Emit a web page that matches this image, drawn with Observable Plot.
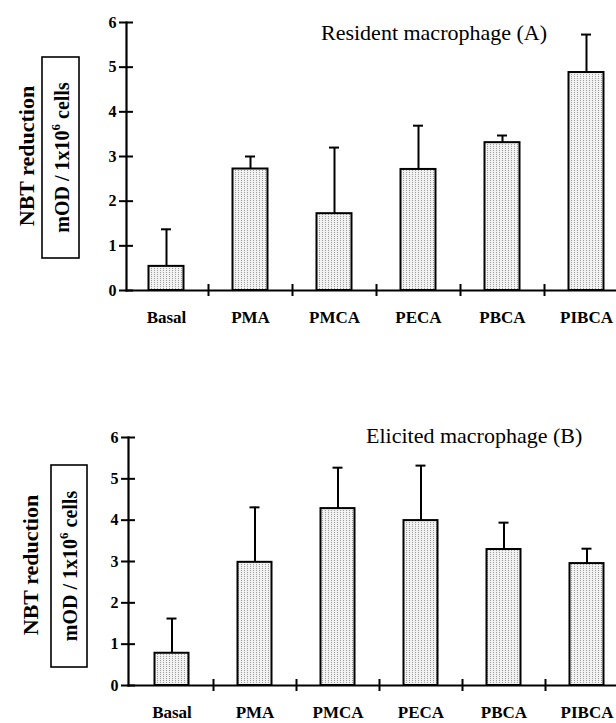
<!DOCTYPE html>
<html><head><meta charset="utf-8">
<script src="https://cdn.jsdelivr.net/npm/d3@7"></script>
<script src="https://cdn.jsdelivr.net/npm/@observablehq/plot@0.6"></script>
<style>
body{margin:0;background:#fff}
#c svg{display:block}
</style>
</head><body><div id="c"></div>
<script>
// ---- data ----
const categories = ["Basal", "PMA", "PMCA", "PECA", "PBCA", "PIBCA"];
const residentMean = [0.54, 2.72, 1.72, 2.71, 3.31, 4.88];
const residentSD   = [0.83, 0.28, 1.48, 0.98, 0.16, 0.85];
const elicitedMean = [0.78, 2.98, 4.28, 3.99, 3.29, 2.95];
const elicitedSD   = [0.84, 1.33, 0.99, 1.33, 0.65, 0.36];
const yTicks = [0, 1, 2, 3, 4, 5, 6];
const panelTitles = ["Resident macrophage (A)", "Elicited macrophage (B)"];
const yTitle = "NBT reduction";
const boxTitle = ["mOD / 1x10", "6", " cells"];

const serif = "'Liberation Serif', 'Times New Roman', Times, serif";

function panel(means, sds, title, L) {
  const rows = categories.map((c, i) => ({cat: c, mean: means[i], upper: means[i] + sds[i]}));
  const bw = (L.xRange[1] - L.xRange[0]) / categories.length;
  const barInset = (bw - L.barWidth) / 2;
  const capInset = (bw - 10) / 2;
  const frameW = 616 - L.marginLeft;
  const pid = "stip" + L.id;
  const svg = Plot.plot({
    width: 616, height: L.height,
    marginTop: L.marginTop, marginBottom: L.marginBottom,
    marginLeft: L.marginLeft, marginRight: 0,
    style: {fontFamily: serif, background: "#fff", color: "#000", overflow: "visible"},
    x: {type: "band", domain: categories, range: L.xRange, padding: 0, label: null},
    y: {domain: [0, 6], label: null, axis: null},
    marks: [
      Plot.barY(rows, {x: "cat", y: "mean", fill: `url(#${pid})`, stroke: "#000", strokeWidth: 2,
        insetLeft: barInset, insetRight: barInset}),
      Plot.ruleX(rows, {x: "cat", y1: "mean", y2: "upper", stroke: "#000", strokeWidth: 2}),
      Plot.tickY(rows, {x: "cat", y: "upper", stroke: "#000", strokeWidth: 2,
        insetLeft: capInset, insetRight: capInset}),
      Plot.frame({anchor: "left", stroke: "#000", strokeWidth: 2.2}),
      Plot.frame({anchor: "bottom", stroke: "#000", strokeWidth: 2.2}),
      // category separator ticks crossing the x axis
      Plot.ruleX(categories.slice(0, -1), {x: d => d, dx: bw / 2, y1: 0, y2: 0,
        insetTop: -6, insetBottom: -6, stroke: "#000", strokeWidth: 2}),
      // y ticks crossing the y axis
      Plot.ruleY(yTicks, {y: d => d, insetLeft: -7, insetRight: frameW - 7, stroke: "#000", strokeWidth: 2}),
      Plot.text(yTicks, {y: d => d, text: d => String(d), frameAnchor: "left", dx: -10, textAnchor: "end",
        fontSize: 16, fontWeight: "bold", fill: "#000"}),
      Plot.axisX({tickSize: 0, tickPadding: L.labelPad, fontSize: 17, fontWeight: "bold", label: null})
    ]
  });
  const s = d3.select(svg);
  s.selectAll("text").filter(function () { return categories.includes(this.textContent); })
    .style("font-size", "17px").style("font-weight", "bold");
  const pat = s.insert("defs", ":first-child").append("pattern")
    .attr("id", pid).attr("patternUnits", "userSpaceOnUse").attr("width", 3).attr("height", 2);
  pat.append("rect").attr("width", 3).attr("height", 2).attr("fill", "#f2f2f2");
  pat.append("rect").attr("x", 1).attr("y", 0).attr("width", 1).attr("height", 1).attr("fill", "#9a9a9a");

  s.append("text").attr("x", L.titleX).attr("y", L.titleY).attr("text-anchor", "start")
    .attr("font-family", serif).attr("font-size", 22).attr("fill", "#000").text(title);
  s.append("text").attr("transform", `translate(${L.yTitleX},${L.yTitleY}) rotate(-90)`)
    .attr("text-anchor", "middle").attr("dominant-baseline", "central")
    .attr("font-family", serif).attr("font-size", 22).attr("font-weight", "bold").attr("fill", "#000")
    .text(yTitle);
  s.append("rect").attr("x", L.box[0]).attr("y", L.box[1]).attr("width", L.box[2]).attr("height", L.box[3])
    .attr("fill", "none").attr("stroke", "#000").attr("stroke-width", 1.6);
  const t = s.append("text")
    .attr("transform", `translate(${L.box[0] + L.box[2] / 2 + 1},${L.box[1] + L.box[3] / 2}) rotate(-90)`)
    .attr("text-anchor", "middle").attr("dominant-baseline", "central")
    .attr("font-family", serif).attr("font-size", 20).attr("font-weight", "bold").attr("fill", "#000");
  t.append("tspan").text(boxTitle[0]);
  t.append("tspan").attr("font-size", 13).attr("dy", -7).text(boxTitle[1]);
  t.append("tspan").attr("dy", 7).text(boxTitle[2]);
  return svg;
}

const panelA = panel(residentMean, residentSD, panelTitles[0], {
  id: "A", height: 360, marginTop: 22, marginBottom: 70, marginLeft: 126,
  xRange: [123.5, 627.5], barWidth: 35, labelPad: 20,
  titleX: 321, titleY: 40, yTitleX: 26, yTitleY: 156, box: [42, 57, 37, 201]
});
const panelB = panel(elicitedMean, elicitedSD, panelTitles[1], {
  id: "B", height: 363, marginTop: 77, marginBottom: 38, marginLeft: 128,
  xRange: [130, 628], barWidth: 34, labelPad: 20,
  titleX: 366, titleY: 83, yTitleX: 30, yTitleY: 205, box: [51, 105, 36, 202]
});
document.getElementById("c").append(panelA, panelB);
</script>
</body></html>
